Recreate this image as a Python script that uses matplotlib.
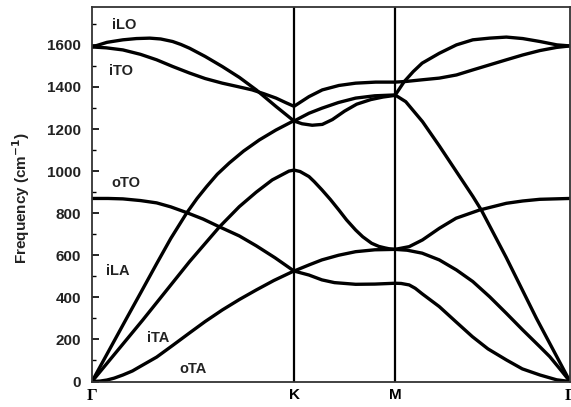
import matplotlib
matplotlib.use("Agg")
import matplotlib.pyplot as plt
from matplotlib.ticker import MultipleLocator

# High-symmetry path (Gamma-K, K-M, M-Gamma lengths 1, 0.5, 0.866)
path_labels = ["Γ", "K", "M", "Γ"]
path_pos = [0.0, 1.0, 1.5, 2.366]

# Phonon branches: position along path, frequency (cm^-1)
oTA_k = [0, 0.04, 0.074, 0.11, 0.153, 0.20, 0.236, 0.320, 0.40, 0.483, 0.56, 0.645, 0.73, 0.813, 0.90, 0.990, 1.0,
         1.074, 1.138, 1.20, 1.305, 1.40, 1.5,
         1.53, 1.570, 1.60, 1.634, 1.719, 1.80, 1.883, 1.96, 2.052, 2.13, 2.217, 2.30, 2.366]
oTA_w = [0, 2, 7, 16, 31, 50, 70, 116, 172, 231, 285, 340, 390, 435, 480, 521, 525,
         506, 483, 470, 462, 463, 467,
         466, 459, 443, 417, 356, 285, 213, 155, 102, 60, 31, 8, 0]

oTO_k = [0, 0.08, 0.153, 0.24, 0.320, 0.39, 0.468, 0.55, 0.631, 0.729, 0.813, 0.906, 1.0,
         1.074, 1.138, 1.22, 1.305, 1.40, 1.5,
         1.570, 1.636, 1.719, 1.802, 1.918, 2.051, 2.132, 2.217, 2.366]
oTO_w = [870, 870, 868, 860, 849, 830, 803, 772, 735, 692, 645, 588, 525,
         554, 578, 600, 617, 626, 628,
         641, 673, 728, 776, 815, 847, 858, 866, 870]

iTA_k = [0, 0.251, 0.483, 0.631, 0.729, 0.813, 0.892, 0.975, 1.0,
         1.03, 1.074, 1.10, 1.138, 1.18, 1.222, 1.26, 1.305, 1.34, 1.384, 1.42, 1.45, 1.47, 1.5,
         1.56, 1.634, 1.719, 1.804, 1.885, 1.968, 2.051, 2.132, 2.217, 2.266, 2.32, 2.366]
iTA_w = [0, 292, 570, 735, 831, 900, 958, 1000, 1005,
         998, 974, 950, 911, 865, 815, 768, 720, 688, 657, 642, 635, 631, 628,
         624, 610, 578, 530, 475, 403, 324, 245, 165, 118, 55, 0]

iLA_k = [0, 0.171, 0.24, 0.320, 0.39, 0.468, 0.52, 0.567, 0.62, 0.680, 0.75, 0.828, 0.91, 0.990, 1.0,
         1.074, 1.138, 1.22, 1.305, 1.40, 1.5,
         1.553, 1.636, 1.719, 1.802, 1.885, 1.927, 2.05, 2.2, 2.366]
iLA_w = [0, 300, 420, 560, 680, 800, 870, 926, 985, 1039, 1095, 1148, 1195, 1235, 1238,
         1275, 1299, 1326, 1347, 1358, 1362,
         1330, 1235, 1120, 1000, 880, 815, 590, 300, 0]

iLO_k = [0, 0.074, 0.153, 0.22, 0.286, 0.34, 0.399, 0.44, 0.483, 0.56, 0.645, 0.73, 0.813, 0.911, 1.0,
         1.04, 1.09, 1.14, 1.19, 1.25, 1.31, 1.38, 1.44, 1.5,
         1.545, 1.59, 1.634, 1.719, 1.804, 1.885, 1.968, 2.051, 2.132, 2.217, 2.301, 2.366]
iLO_w = [1590, 1612, 1624, 1630, 1632, 1628, 1616, 1602, 1584, 1545, 1497, 1445, 1386, 1307, 1238,
         1225, 1218, 1222, 1245, 1285, 1318, 1340, 1352, 1360,
         1425, 1473, 1513, 1560, 1600, 1624, 1632, 1637, 1630, 1616, 1600, 1595]

iTO_k = [0, 0.07, 0.153, 0.24, 0.320, 0.40, 0.483, 0.56, 0.645, 0.72, 0.793, 0.85, 0.911, 0.96, 1.0,
         1.074, 1.14, 1.222, 1.305, 1.404, 1.5,
         1.553, 1.634, 1.719, 1.804, 1.885, 1.968, 2.051, 2.132, 2.217, 2.30, 2.366]
iTO_w = [1590, 1586, 1576, 1555, 1529, 1497, 1466, 1440, 1418, 1402, 1386, 1368, 1347, 1325, 1308,
         1354, 1386, 1407, 1418, 1423, 1423,
         1426, 1434, 1442, 1457, 1481, 1505, 1529, 1552, 1573, 1588, 1595]

branch_names = ["iLO", "iTO", "oTO", "iLA", "iTA", "oTA"]
label_k = [0.158, 0.143, 0.167, 0.128, 0.330, 0.502]
label_w = [1695, 1476, 944, 525, 207, 59]

fig = plt.figure(figsize=(5.71, 4.07), dpi=100)
ax = fig.add_axes([92/571, 1 - 381.5/407, 478/571, (381.5 - 7)/407])

for k, w in [(oTA_k, oTA_w), (oTO_k, oTO_w), (iTA_k, iTA_w),
             (iLA_k, iLA_w), (iLO_k, iLO_w), (iTO_k, iTO_w)]:
    ax.plot(k, w, color="black", lw=2.4, solid_capstyle="round", solid_joinstyle="round")

for p in path_pos[1:3]:
    ax.axvline(p, color="black", lw=1.6)

for name, kx, wy in zip(branch_names, label_k, label_w):
    ax.text(kx, wy, name, ha="center", va="center", fontsize=10.5,
            fontweight="bold", family="Liberation Sans", color="#222222")

ax.set_xlim(path_pos[0], path_pos[-1])
ax.set_ylim(0, 1780)
ax.set_xticks(path_pos)
ax.set_xticklabels(path_labels)
for i, t in enumerate(ax.get_xticklabels()):
    if path_labels[i] == "Γ":
        t.set_family("Liberation Serif")
        t.set_fontweight("bold")
        t.set_fontsize(12)
    else:
        t.set_family("Liberation Sans")
        t.set_fontweight("bold")
        t.set_fontsize(11)
ax.tick_params(axis="x", length=0, pad=5)

ax.set_yticks([0, 200, 400, 600, 800, 1000, 1200, 1400, 1600])
ax.yaxis.set_minor_locator(MultipleLocator(100))
ax.tick_params(axis="y", which="major", direction="in", length=5, width=1.2, pad=8)
ax.tick_params(axis="y", which="minor", direction="in", length=3, width=1.0)
for t in ax.get_yticklabels():
    t.set_family("Liberation Sans")
    t.set_fontweight("bold")
    t.set_fontsize(11)
    t.set_color("#222222")

ax.set_ylabel("Frequency (cm$^{\\mathbf{-1}}$)", fontsize=11, fontweight="bold",
              family="Liberation Sans", color="#222222")
ax.yaxis.set_label_coords(-0.125, 0.49)

for s in ax.spines.values():
    s.set_linewidth(1.3)
    s.set_color("#333333")

fig.savefig("out.png", dpi=100)
